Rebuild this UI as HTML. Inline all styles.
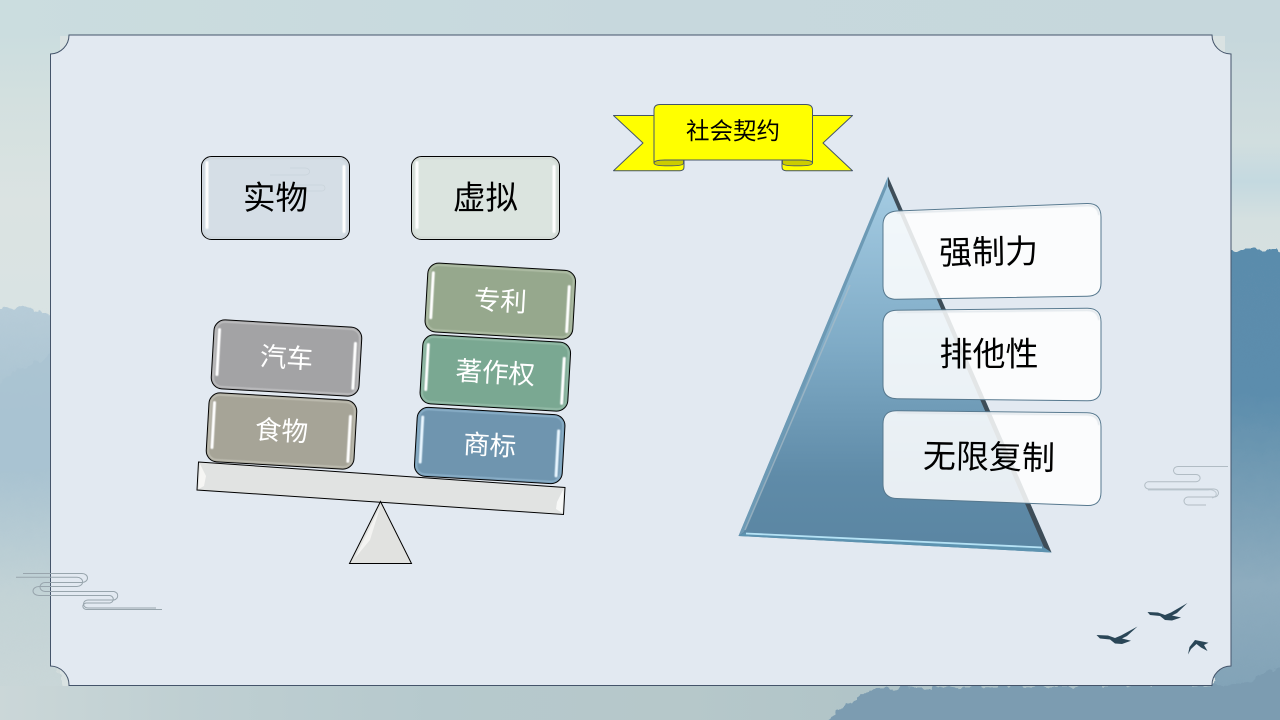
<!DOCTYPE html>
<html lang="zh"><head><meta charset="utf-8"><title>社会契约</title>
<style>
html,body{margin:0;padding:0;width:1280px;height:720px;overflow:hidden;background:#d0dedf}
svg{display:block}
text{font-family:"Liberation Sans","Noto Sans CJK SC",sans-serif;text-anchor:middle;dominant-baseline:central}
</style></head><body>
<svg width="1280" height="720" viewBox="0 0 1280 720" xmlns="http://www.w3.org/2000/svg">
<defs>
<linearGradient id="top" x1="0" x2="1" y1="0" y2="0"><stop offset="0" stop-color="#cbdddf"/><stop offset=".5" stop-color="#c7d8dd"/><stop offset="1" stop-color="#c6d7dc"/></linearGradient>
<linearGradient id="bot" x1="0" x2="1" y1="0" y2="0"><stop offset="0" stop-color="#cbd7d8"/><stop offset=".15" stop-color="#bfcfd2"/><stop offset=".35" stop-color="#b6c9cd"/><stop offset=".55" stop-color="#b6c8ca"/><stop offset="1" stop-color="#a5bcc4"/></linearGradient>
<linearGradient id="leftcol" x1="0" x2="0" y1="0" y2="1"><stop offset="0" stop-color="#cbdddf"/><stop offset=".05" stop-color="#cbdddf"/><stop offset=".14" stop-color="#d3e0df"/><stop offset=".28" stop-color="#dbe3e2"/><stop offset=".41" stop-color="#d9e3e3"/><stop offset="1" stop-color="#d0dada"/></linearGradient>
<linearGradient id="leftblue" x1="0" x2="0" y1="0" y2="1"><stop offset="0" stop-color="#b7ccd8"/><stop offset=".25" stop-color="#a9c3d1"/><stop offset=".4" stop-color="#a9c3d1"/><stop offset=".7" stop-color="#c3d3d6"/><stop offset="1" stop-color="#cbd7d8"/></linearGradient>
<linearGradient id="rightup" x1="0" x2="0" y1="0" y2="1"><stop offset="0" stop-color="#c6d7dc"/><stop offset=".14" stop-color="#c6d7dc"/><stop offset=".55" stop-color="#d1dedf"/><stop offset=".7" stop-color="#c4d9e0"/><stop offset=".85" stop-color="#d5e0e0"/><stop offset="1" stop-color="#d6e0e0"/></linearGradient>
<linearGradient id="rightcol" x1="0" x2="0" y1="0" y2="1"><stop offset="0" stop-color="#5a8cac"/><stop offset=".3" stop-color="#5c8dad"/><stop offset=".42" stop-color="#6c97b1"/><stop offset=".7" stop-color="#8eacbe"/><stop offset="1" stop-color="#7d9fb4"/></linearGradient>
<linearGradient id="pyr" x1="0" x2="0" y1="0" y2="1"><stop offset="0" stop-color="#a6cde4"/><stop offset=".45" stop-color="#7fabc6"/><stop offset=".8" stop-color="#5f8ba8"/><stop offset="1" stop-color="#5a85a2"/></linearGradient>
<filter id="rough" x="-10%" y="-10%" width="120%" height="120%"><feTurbulence type="fractalNoise" baseFrequency=".09" numOctaves="3" seed="4"/><feDisplacementMap in="SourceGraphic" scale="12" xChannelSelector="R" yChannelSelector="G"/></filter>
<filter id="b2" x="-20%" y="-20%" width="140%" height="140%"><feGaussianBlur stdDeviation=".55"/></filter>
</defs>

<!-- background -->
<rect width="1280" height="720" fill="#d9e2e2"/>
<rect width="60" height="720" fill="url(#leftcol)"/>
<rect x="1225" width="60" height="260" fill="url(#rightup)"/>
<rect width="1280" height="36" fill="url(#top)"/>
<g filter="url(#rough)">
<path d="M-20 308 L20 306 L60 318 V720 H-20Z" fill="url(#leftblue)"/>
<path d="M-20 400 L15 372 L60 350 V470 H-20Z" fill="#a9c3d1" opacity=".75"/>
</g>
<g filter="url(#rough)">
<rect x="1215" y="250" width="85" height="480" fill="url(#rightcol)"/>
</g>
<rect y="686" width="1240" height="34" fill="url(#bot)"/>
<g filter="url(#rough)">
<path d="M803 735 L850 704 L875 688 L1240 684 L1300 660 V735Z" fill="#7b9cb1"/>
</g>

<!-- frame -->
<path d="M69 35 H1212 A19 19 0 0 0 1231 54 V666 A19 19 0 0 0 1212 685.500 H69 A19 19 0 0 0 50.500 666 V54 A19 19 0 0 0 69 35Z" fill="#e2e9f1" stroke="#44546a" stroke-width="1"/>

<!-- clouds -->
<g fill="none" stroke="#98a5ad" stroke-width="1">
<path d="M23 573.500 H82 A5.500 4.500 0 0 1 82 582.500 H45 A5 4.500 0 0 0 45 591.500 H114 A5.500 4.500 0 0 1 114 600 H88 A4.500 4 0 0 0 88 608 H156"/>
<path d="M16 577.300 H77 A5.500 4.500 0 0 1 77 586.500 H39 A6 4.500 0 0 0 39 595.500 H110 A5 4 0 0 1 110 603 H86 A5 3.500 0 0 0 86 609.500 H162" />
</g>
<g fill="none" stroke="#b1bcc4" stroke-width="1">
<path d="M1228 466.500 H1178 A4.500 4 0 0 0 1178 474.500 H1196 A4 3.500 0 0 1 1196 481.700 H1148 A5.500 4 0 0 0 1148 489 H1214 A4.500 4 0 0 1 1214 497 H1188 A4 4 0 0 0 1188 505 H1206"/>
<path d="M1148 490 H1208 A6 4 0 0 1 1212 498 " opacity=".7"/>
</g>
<!-- birds -->
<g fill="#2a4657">
<path d="M1096.500 635 L1108 635.500 L1115 638 L1121 635.500 L1137.500 626.500 L1127 636 L1122 638.500 L1131 640.700 L1122 644 L1115 643.500 L1110 639.500 L1100 638.500Z"/>
<path d="M1147.500 612 L1158 612.500 L1165 615 L1171 612.500 L1187.500 603 L1177 613 L1172 615.500 L1181 617.500 L1172 620.500 L1165 620 L1160 616 L1150 615Z"/>
<path d="M1188 654.500 L1189.500 647 L1195 640 L1208.500 642.700 L1204 645 L1207.500 651 L1201 647.500 L1196.500 644 L1191 649Z"/>
</g>

<!-- ribbon -->
<g stroke="#44546a" stroke-width="1" stroke-linejoin="round">
<path d="M654 115.500 H613.500 L643 143 L613.500 170.700 H680 Q684 170.700 684 167 V158 H654Z" fill="#ffff00"/>
<path d="M812 115.500 H852.500 L823 143 L852.500 170.700 H786 Q782 170.700 782 167 V158 H812Z" fill="#ffff00"/>
<path d="M654 163 Q654 160 665 160 H683.500 V163 Q683.500 165.800 672 165.800 H665 Q654 165.800 654 163Z" fill="#cccc00" stroke-width=".8"/>
<path d="M812.500 163 Q812.500 160 801 160 H782.500 V163 Q782.500 165.800 794 165.800 H801 Q812.500 165.800 812.500 163Z" fill="#cccc00" stroke-width=".8"/>
<path d="M660 104.500 H806 Q812.500 104.500 812.500 110 V163 Q812.500 160 801 160 H665 Q654 160 654 163 V110 Q654 104.500 660 104.500Z" fill="#ffff00"/>
</g>
<text x="733" y="131" font-size="23.500" fill="#000">社会契约</text>

<!-- top boxes -->
<g>
<rect x="201.500" y="156.500" width="148" height="83" rx="10" fill="#d5dee6" stroke="#000" stroke-width="1"/>
<g fill="none" stroke="#8f9aa4" stroke-width=".8" opacity=".15"><path d="M290 168 H305 A4 3 0 0 1 305 175 H270 M295 185 H322 A3 3 0 0 1 322 191 H300"/></g>
<rect x="203.500" y="158.500" width="144" height="79" rx="8" fill="none" stroke="#c7ced3" stroke-width="1.200" filter="url(#b2)" opacity=".7"/>
<rect x="205.500" y="161" width="3" height="68" rx="1.500" fill="#fff" filter="url(#b2)"/>
<rect x="342.500" y="165" width="3" height="68" rx="1.500" fill="#fff" filter="url(#b2)"/>
<text x="275.500" y="198" font-size="32.500" fill="#000">实物</text>
<rect x="411.500" y="156.500" width="148" height="83" rx="10" fill="#dbe4df" stroke="#000" stroke-width="1"/>
<rect x="413.500" y="158.500" width="144" height="79" rx="8" fill="none" stroke="#cbd1cd" stroke-width="1.200" filter="url(#b2)" opacity=".7"/>
<rect x="415.500" y="161" width="3" height="68" rx="1.500" fill="#fff" filter="url(#b2)"/>
<rect x="552.500" y="165" width="3" height="68" rx="1.500" fill="#fff" filter="url(#b2)"/>
<text x="485.500" y="198" font-size="32.500" fill="#000">虚拟</text>
</g>

<!-- balance -->
<path d="M198.500 462 L565 487.500 L563.500 514.500 L197 490Z" fill="#e1e3e2" stroke="#000" stroke-width="1"/>
<path d="M200 464 L206 476 L204 486 L198.500 489Z" fill="#f6f6f4"/>
<path d="M563.500 489 L557 502 L556 509 L562.500 513Z" fill="#f7f8f7"/>
<path d="M380.500 501.500 L349.500 563.500 H411.500Z" fill="#e1e2e0" stroke="#000" stroke-width="1"/>
<path d="M380.500 506 L355 558 L370 540Z" fill="#f4f4f2"/>

<!-- blocks -->
<g transform="translate(286.500 358) rotate(3.300)">
<rect x="-74" y="-34.500" width="148" height="69" rx="11" fill="#a3a3a5" stroke="#000" stroke-width="1"/>
<rect x="-72" y="-32.500" width="144" height="65" rx="9" fill="none" stroke="#d0d0d1" stroke-width="1.200" filter="url(#b2)" opacity=".8"/>
<rect x="-70" y="-26" width="3" height="48" rx="1.500" fill="#fff" filter="url(#b2)"/>
<rect x="66.500" y="-20" width="3" height="48" rx="1.500" fill="#fff" filter="url(#b2)"/>
<text x="0" y="0" font-size="26.500" fill="#fff">汽车</text>
</g>
<g transform="translate(281.500 431) rotate(3.300)">
<rect x="-74" y="-34.500" width="148" height="69" rx="11" fill="#a6a497" stroke="#000" stroke-width="1"/>
<rect x="-72" y="-32.500" width="144" height="65" rx="9" fill="none" stroke="#cfcec3" stroke-width="1.200" filter="url(#b2)" opacity=".8"/>
<rect x="-70" y="-26" width="3" height="48" rx="1.500" fill="#fff" filter="url(#b2)"/>
<rect x="66.500" y="-20" width="3" height="48" rx="1.500" fill="#fff" filter="url(#b2)"/>
<text x="0" y="0" font-size="26.500" fill="#fff">食物</text>
</g>
<g transform="translate(500.300 301.200) rotate(3.300)">
<rect x="-74" y="-34.500" width="148" height="69" rx="11" fill="#96a88d" stroke="#000" stroke-width="1"/>
<rect x="-72" y="-32.500" width="144" height="65" rx="9" fill="none" stroke="#c2cdb9" stroke-width="1.200" filter="url(#b2)" opacity=".8"/>
<rect x="-70" y="-26" width="3" height="48" rx="1.500" fill="#fff" filter="url(#b2)"/>
<rect x="66.500" y="-20" width="3" height="48" rx="1.500" fill="#fff" filter="url(#b2)"/>
<text x="0" y="0" font-size="26.500" fill="#fff">专利</text>
</g>
<g transform="translate(495.300 373) rotate(3.300)">
<rect x="-74" y="-34.500" width="148" height="69" rx="11" fill="#7aa892" stroke="#000" stroke-width="1"/>
<rect x="-72" y="-32.500" width="144" height="65" rx="9" fill="none" stroke="#a8cab9" stroke-width="1.200" filter="url(#b2)" opacity=".8"/>
<rect x="-70" y="-26" width="3" height="48" rx="1.500" fill="#fff" filter="url(#b2)"/>
<rect x="66.500" y="-20" width="3" height="48" rx="1.500" fill="#fff" filter="url(#b2)"/>
<text x="0" y="0" font-size="26.500" fill="#fff">著作权</text>
</g>
<g transform="translate(489.700 445.500) rotate(3.300)">
<rect x="-74" y="-34.500" width="148" height="69" rx="11" fill="#6f95af" stroke="#000" stroke-width="1"/>
<rect x="-72" y="-32.500" width="144" height="65" rx="9" fill="none" stroke="#9fc3dc" stroke-width="1.200" filter="url(#b2)" opacity=".8"/>
<rect x="-70" y="-26" width="3" height="48" rx="1.500" fill="#e8f6ff" filter="url(#b2)"/>
<rect x="66.500" y="-20" width="3" height="48" rx="1.500" fill="#e8f6ff" filter="url(#b2)"/>
<text x="0" y="0" font-size="26.500" fill="#fff">商标</text>
</g>

<!-- pyramid -->
<path d="M888 176.500 L738.500 536 L1051.500 552.500Z" fill="url(#pyr)"/>
<path d="M888 176.500 L738.500 536 L744 532 L887 187Z" fill="#6d9ab5"/>
<path d="M888 176.500 L1051.500 552.500 L1044 547.500 L888 186Z" fill="#3e4d58"/>
<path d="M738.500 536 L1051.500 552.500 L1044 547.500 L745 532.500Z" fill="#5d93b0"/>
<path d="M746 533.500 L1042 547.500" stroke="#b5e2f5" stroke-width="1.800" fill="none"/>
<path d="M850 285 L745 530" stroke="#a9bcc8" stroke-width="1.500" fill="none" opacity=".7"/>

<!-- cards -->
<g stroke="#56788e" stroke-width="1" fill="#fff" fill-opacity=".86">
<path d="M897 211 L1087 203.500 Q1101 203 1101 217 V283 Q1101 296 1087 296.300 L897 299.300 Q883 299.500 883 286 V225 Q883 212 897 211Z"/>
<path d="M897 310.300 L1087 308.200 Q1101 308 1101 322 V388 Q1101 401 1087 400.800 L897 398.700 Q883 398.500 883 385 V324 Q883 310.500 897 310.300Z"/>
<path d="M897 410.700 L1087 412.800 Q1101 413 1101 427 V492 Q1101 506 1087 505.500 L897 498.500 Q883 498 883 484 V424 Q883 410.500 897 410.700Z"/>
</g>
<g fill="none" stroke="#dfe5ea" stroke-width="1.500" filter="url(#b2)">
<path d="M897 213 L1087 205.500 Q1098 205 1099 215"/>
<path d="M897 312.300 L1087 310.200 Q1098 310 1099 320"/>
<path d="M897 412.700 L1087 414.800 Q1098 415 1099 425"/>
</g>
<text x="988.500" y="252" font-size="33" fill="#000" transform="rotate(-1 988 252)">强制力</text>
<text x="989" y="354" font-size="33" fill="#000">排他性</text>
<text x="989" y="457" font-size="33" fill="#000" transform="rotate(1 989 457)">无限复制</text>
</svg>
</body></html>
